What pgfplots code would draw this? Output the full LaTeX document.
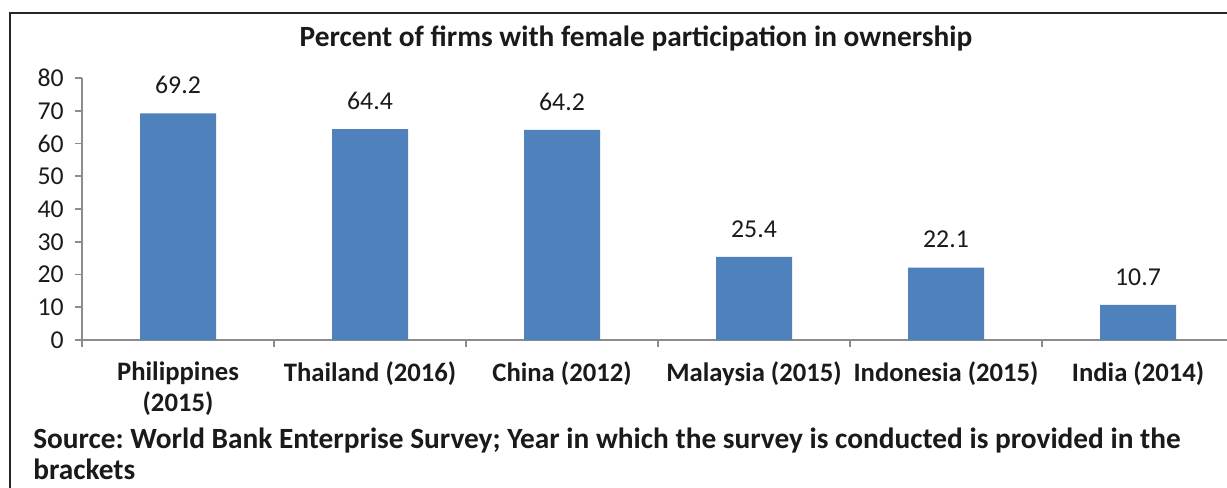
\documentclass[border=0pt]{standalone}
\usepackage{fontspec}
\setmainfont{Carlito}
\usepackage{pgfplots}
\pgfplotsset{compat=1.18}
\definecolor{barblue}{HTML}{4F81BD}
\definecolor{axgray}{HTML}{8C8C8C}
\definecolor{txt}{HTML}{1A1A1A}
\frenchspacing
\begin{document}
\begin{tikzpicture}[x=0.75pt,y=0.75pt]
\fill[white] (0,0) rectangle (1227,487);
\begin{scope}
\clip (0,0) rectangle (1227,487);
\draw[line width=1.5pt, black!85] (10,-5) -- (10,474) -- (1240,474);
\begin{axis}[
  at={(61.5pt,110.25pt)}, anchor=south west,
  scale only axis, width=864pt, height=196.5pt,
  xmin=-0.5, xmax=5.5, ymin=0, ymax=80,
  axis x line*=bottom, axis y line*=left,
  axis line style={axgray, line width=1.3pt, -},
  tick style={axgray, line width=1.2pt},
  tick align=outside, major tick length=5.25pt,
  ytick={0,10,...,80},
  xtick={-0.5,0.5,...,5.5}, xticklabels={},
  extra x ticks={0,1,2,3,4,5},
  extra x tick labels={Philippines\\(2015),Thailand (2016),China (2012),Malaysia (2015),Indonesia (2015),India (2014)},
  extra x tick style={major tick length=0pt, xticklabel style={align=center, anchor=north, font=\fontsize{20}{23.25}\selectfont\bfseries, text=txt, yshift=-13pt}},
  yticklabel style={font=\fontsize{19.3}{22}\selectfont, text=txt, xshift=-5pt},
  /pgf/number format/assume math mode=true,
  ybar, bar width=57pt,
  nodes near coords,
  nodes near coords style={font=\fontsize{19.3}{22}\selectfont, text=txt, anchor=center, yshift=21pt, /pgf/number format/fixed, /pgf/number format/precision=1, /pgf/number format/fixed zerofill},
  clip=false,
]
\addplot[fill=barblue, draw=none] coordinates {(0,69.2) (1,64.4) (2,64.2) (3,25.4) (4,22.1) (5,10.7)};
\end{axis}
\node[font=\fontsize{22}{26}\selectfont\bfseries, text=txt] at (636,449) {Percent of firms with female participation in ownership};
\node[font=\fontsize{22}{26}\selectfont\bfseries, text=txt, anchor=west, inner sep=0pt] at (33,46) {Source: World Bank Enterprise Survey; Year in which the survey is conducted is provided in the};
\node[font=\fontsize{22}{26}\selectfont\bfseries, text=txt, anchor=west, inner sep=0pt] at (33,18) {brackets};
\end{scope}
\pgfresetboundingbox
\useasboundingbox (0,0) rectangle (1227,487);
\end{tikzpicture}
\end{document}
